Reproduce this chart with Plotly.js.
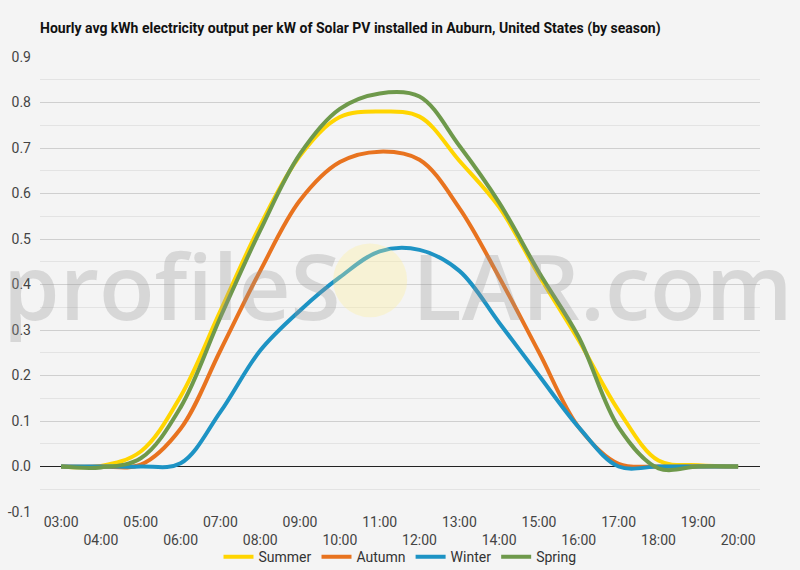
<!DOCTYPE html>
<html>
<head>
<meta charset="utf-8">
<script src="https://cdn.plot.ly/plotly-3.0.1.min.js"></script>
<style>
  html, body { margin: 0; padding: 0; background: #f4f4f4; }
  #chart { width: 800px; height: 570px; }
</style>
</head>
<body>
<div id="chart"></div>
<script>
// hours of the day (3 = 03:00 ... 20 = 20:00)
var hours = [3, 4, 5, 6, 7, 8, 9, 10, 11, 12, 13, 14, 15, 16, 17, 18, 19, 20];
var hourLabels = ['03:00', '<br>04:00', '05:00', '<br>06:00', '07:00', '<br>08:00', '09:00', '<br>10:00',
  '11:00', '<br>12:00', '13:00', '<br>14:00', '15:00', '<br>16:00', '17:00', '<br>18:00', '19:00', '<br>20:00'];

// avg kWh per kW installed, by season
var summer = [0, 0.001, 0.033, 0.154, 0.342, 0.53, 0.683, 0.768, 0.78, 0.769, 0.672, 0.57, 0.42, 0.277, 0.123, 0.013, 0.003, 0];
var autumn = [0, 0, 0.004, 0.083, 0.255, 0.43, 0.585, 0.669, 0.692, 0.674, 0.568, 0.416, 0.251, 0.086, 0.006, 0, 0, 0];
var winter = [0, 0, 0, 0.007, 0.12, 0.255, 0.343, 0.416, 0.473, 0.476, 0.43, 0.316, 0.2, 0.086, 0, 0, 0, 0];
var spring = [0, -0.002, 0.018, 0.13, 0.328, 0.519, 0.687, 0.786, 0.82, 0.813, 0.705, 0.58, 0.427, 0.284, 0.086, -0.004, 0, 0];

var yTicks = [-0.1, 0, 0.1, 0.2, 0.3, 0.4, 0.5, 0.6, 0.7, 0.8, 0.9];
var yLabels = ['-0.1', '0.0', '0.1', '0.2', '0.3', '0.4', '0.5', '0.6', '0.7', '0.8', '0.9'];

function season(name, values, color) {
  return {
    name: name,
    x: hours,
    y: values,
    type: 'scatter',
    mode: 'lines',
    line: { color: color, width: 4, shape: 'spline', smoothing: 1 },
    hoverinfo: 'skip'
  };
}

var data = [
  season('Summer', summer, '#ffd500'),
  season('Autumn', autumn, '#e8731f'),
  season('Winter', winter, '#1d93c4'),
  season('Spring', spring, '#6e994b')
];

var layout = {
  width: 800,
  height: 570,
  paper_bgcolor: '#f4f4f4',
  plot_bgcolor: '#f4f4f4',
  font: { family: 'Roboto, sans-serif', size: 14, color: '#444' },
  margin: { l: 40, r: 40, t: 57, b: 58, autoexpand: false },
  title: {
    text: '<b>Hourly avg kWh electricity output per kW of Solar PV installed in Auburn, United States (by season)</b>',
    font: { size: 14, color: '#111' },
    x: 0.05, xanchor: 'left', y: 0.95, yanchor: 'middle'
  },
  xaxis: {
    range: [2.47, 20.55],
    tickvals: hours,
    ticktext: hourLabels,
    showgrid: false,
    zeroline: false,
    ticks: '',
    automargin: false,
    tickfont: { size: 14, color: '#444' },
    fixedrange: true
  },
  yaxis: {
    range: [-0.1, 0.9],
    tickvals: yTicks,
    ticktext: yLabels,
    gridcolor: '#cfcfcf',
    gridwidth: 1,
    minor: { dtick: 0.05, showgrid: true, gridcolor: '#e3e3e3', gridwidth: 1 },
    zeroline: true,
    zerolinecolor: '#222',
    zerolinewidth: 1,
    ticks: '',
    automargin: false,
    ticklabelstandoff: 8,
    tickfont: { size: 14, color: '#444' },
    fixedrange: true
  },
  showlegend: true,
  legend: {
    orientation: 'h',
    x: 0.5, xanchor: 'center',
    y: -0.099, yanchor: 'middle',
    font: { size: 14, color: '#333' },
    itemwidth: 30,
    bgcolor: 'rgba(0,0,0,0)'
  },
  shapes: [{
    type: 'circle',
    layer: 'above',
    xref: 'x', yref: 'y',
    x0: 9.83, x1: 11.69, y0: 0.328, y1: 0.49,
    line: { width: 0 },
    fillcolor: 'rgba(255,240,150,0.32)'
  }],
  annotations: [{
    text: 'profileS<span style="color:rgba(0,0,0,0)">O</span>LAR.com',
    xref: 'paper', yref: 'paper',
    x: 0.497, y: 0.5,
    xanchor: 'center', yanchor: 'middle',
    showarrow: false,
    font: { family: 'Open Sans, sans-serif', size: 91, weight: 600, color: 'rgba(150,150,150,0.3)' }
  }]
};

var config = { displayModeBar: false, staticPlot: true };

Plotly.newPlot('chart', data, layout, config);
</script>
</body>
</html>
